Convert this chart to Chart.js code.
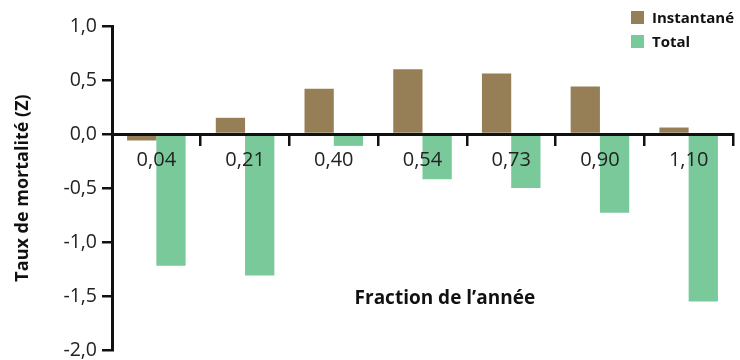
<!DOCTYPE html>
<html>
<head>
<meta charset="utf-8">
<script src="https://cdn.jsdelivr.net/npm/chart.js@4"></script>
<style>
    html, body { margin: 0; padding: 0; background: #fff; }
    #wrap { position: relative; width: 740px; height: 360px; }
    #legend { position: absolute; left: 631px; top: 5px; font: bold 15px "Open Sans", sans-serif; color: #111; }
    #legend div { display: flex; align-items: center; height: 24px; }
    #legend span.box { display: inline-block; width: 13px; height: 13px; margin-right: 8px; }
</style>
</head>
<body>
<div id="wrap">
    <canvas id="chart" width="740" height="360"></canvas>
    <div id="legend"></div>
</div>
<script>
// ======== Data =========
const categories = ['0,04', '0,21', '0,40', '0,54', '0,73', '0,90', '1,10'];
const instantane = [-0.06, 0.15, 0.42, 0.60, 0.56, 0.44, 0.06];
const total = [-1.22, -1.31, -0.11, -0.42, -0.50, -0.73, -1.55];
const yTickLabels = ['-2,0', '-1,5', '-1,0', '-0,5', '0,0', '0,5', '1,0'];

const seriesNames = ['Instantané', 'Total'];
const seriesColors = ['#967f56', '#7ac99b'];

const fontFamily = '"Open Sans", sans-serif';
const textColor = '#222';

// titre de l'axe X dessiné dans la zone du graphique
const xTitlePlugin = {
    id: 'xTitle',
    afterDraw(chart) {
        const { ctx, chartArea } = chart;
        ctx.save();
        ctx.font = `bold 19px ${fontFamily}`;
        ctx.fillStyle = '#111';
        ctx.textAlign = 'center';
        ctx.textBaseline = 'middle';
        ctx.fillText('Fraction de l\u2019année', chartArea.left + chartArea.width * 0.536, chartArea.top + chartArea.height * 0.84);
        ctx.restore();
    }
};

const ctx = document.getElementById('chart').getContext('2d');
const chart = new Chart(ctx, {
    type: 'bar',
    data: {
        labels: categories,
        datasets: [
            { label: seriesNames[0], data: instantane, backgroundColor: seriesColors[0] },
            { label: seriesNames[1], data: total, backgroundColor: seriesColors[1] }
        ]
    },
    options: {
        responsive: false,
        animation: false,
        categoryPercentage: 0.66,
        barPercentage: 1.0,
        layout: { padding: { left: 0, right: 7, top: 26, bottom: 10 } },
        plugins: {
            legend: { display: false },
            tooltip: { enabled: false }
        },
        scales: {
            x: {
                position: { y: 0 },
                grid: {
                    offset: true,
                    drawOnChartArea: false,
                    drawTicks: true,
                    tickLength: 10,
                    color: '#111',
                    lineWidth: 2.5
                },
                border: { display: true, color: '#111', width: 3, z: 1 },
                ticks: {
                    color: textColor,
                    font: { family: fontFamily, size: 20 },
                    padding: 4,
                    maxRotation: 0,
                    z: 1
                }
            },
            y: {
                min: -2,
                max: 1,
                afterFit(scale) {
                    scale.width = 112;
                    scale.paddingTop = 0;
                    scale.paddingBottom = 0;
                },
                grid: {
                    drawOnChartArea: false,
                    drawTicks: true,
                    tickLength: 10,
                    color: '#111',
                    lineWidth: 2.5
                },
                border: { display: true, color: '#111', width: 3 },
                ticks: {
                    stepSize: 0.5,
                    color: textColor,
                    font: { family: fontFamily, size: 19.5 },
                    padding: 5,
                    callback: (value, index) => yTickLabels[index]
                },
                title: {
                    display: true,
                    text: 'Taux de mortalité (Z)',
                    color: '#111',
                    font: { family: fontFamily, size: 18, weight: 'bold' },
                    padding: { top: 12, bottom: 0 }
                }
            }
        }
    },
    plugins: [xTitlePlugin]
});

// légende HTML empilée en haut à droite
const legend = document.getElementById('legend');
seriesNames.forEach((name, i) => {
    const row = document.createElement('div');
    row.innerHTML = `<span class="box" style="background:${seriesColors[i]}"></span>${name}`;
    legend.appendChild(row);
});
</script>
</body>
</html>
